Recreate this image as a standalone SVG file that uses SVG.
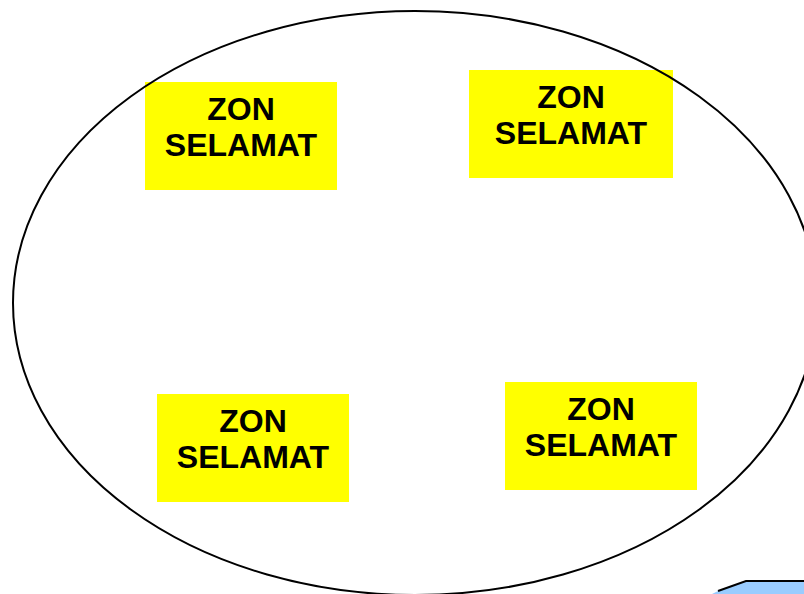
<svg xmlns="http://www.w3.org/2000/svg" width="804" height="594" viewBox="0 0 804 594">
<style>
.zone{fill:#ffff00;stroke:none}
.lbl{font-family:"Liberation Sans",Arial,sans-serif;font-weight:bold;font-size:32px;fill:#000;text-anchor:middle}
.ring{fill:none;stroke:#000;stroke-width:2}
</style>
<rect width="804" height="594" fill="#fff"/>
<g id="zone1">
<rect class="zone" x="145" y="82" width="192" height="108"/>
<text class="lbl" x="241" y="120">ZON</text>
<text class="lbl" x="241" y="156">SELAMAT</text>
</g>
<g id="zone2">
<rect class="zone" x="469" y="70" width="204" height="108"/>
<text class="lbl" x="571" y="108">ZON</text>
<text class="lbl" x="571" y="144">SELAMAT</text>
</g>
<g id="zone3">
<rect class="zone" x="157" y="394" width="192" height="108"/>
<text class="lbl" x="253" y="432">ZON</text>
<text class="lbl" x="253" y="468">SELAMAT</text>
</g>
<g id="zone4">
<rect class="zone" x="505" y="382" width="192" height="108"/>
<text class="lbl" x="601" y="420">ZON</text>
<text class="lbl" x="601" y="456">SELAMAT</text>
</g>
<g id="boundary">
<ellipse class="ring" cx="415" cy="303" rx="402" ry="292"/>
</g>
<g id="corner-shape">
<polygon points="718,591 746,581 810,581 810,600 700,600" fill="#99ccff" stroke="none"/>
<polyline points="718,591 746,581 810,581" fill="none" stroke="#000" stroke-width="2"/>
</g>
</svg>
